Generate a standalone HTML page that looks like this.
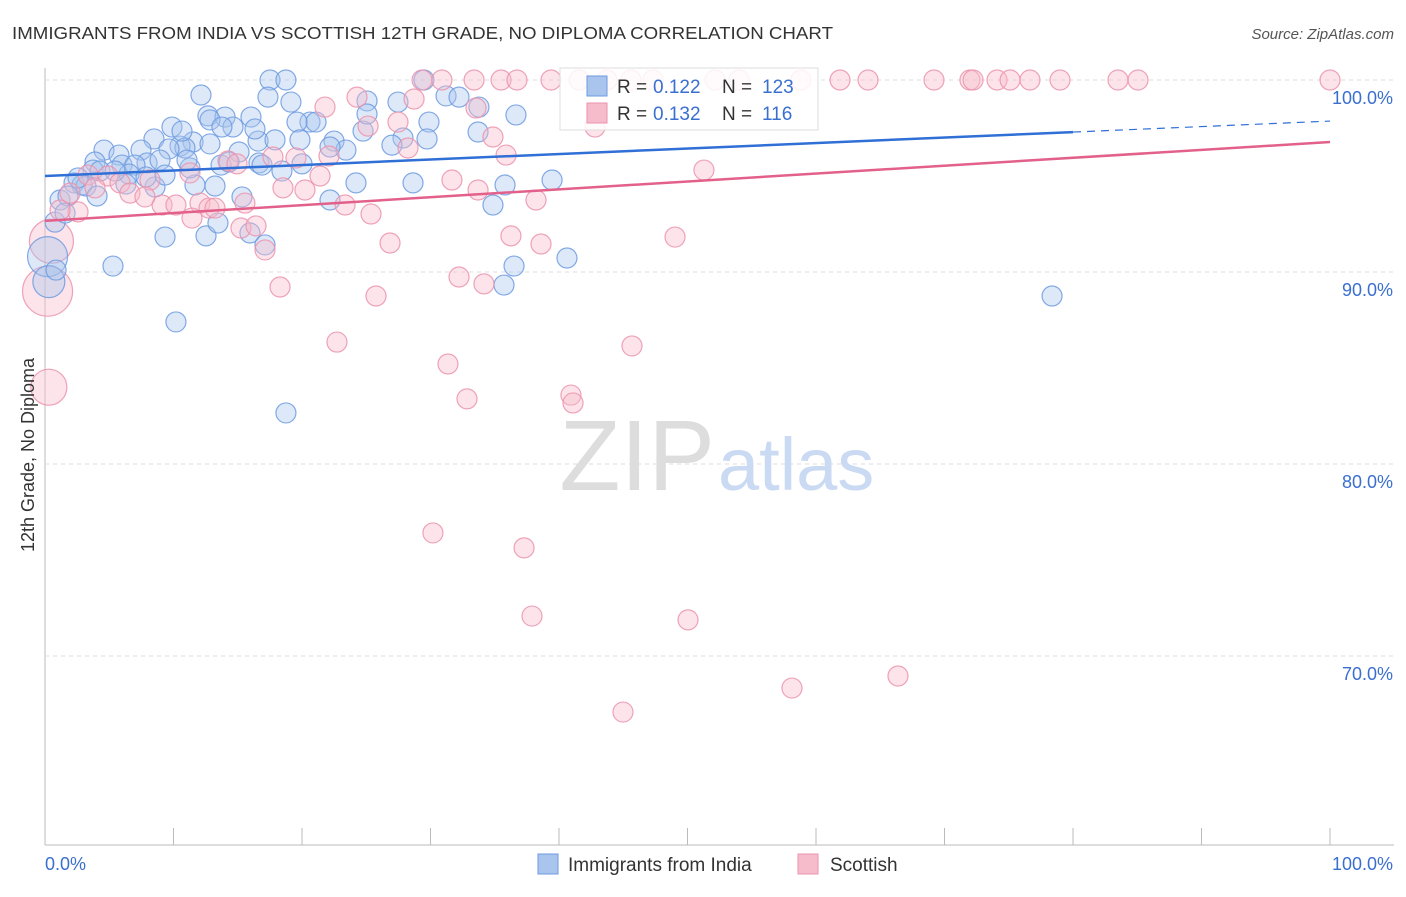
<!DOCTYPE html>
<html><head><meta charset="utf-8"><style>
body{margin:0;background:#fff;font-family:"Liberation Sans",sans-serif;}
svg text{font-family:"Liberation Sans",sans-serif;}
</style></head><body>
<svg width="1406" height="892" viewBox="0 0 1406 892">
<text x="12" y="39" font-size="17.5" fill="#333" textLength="821" lengthAdjust="spacingAndGlyphs">IMMIGRANTS FROM INDIA VS SCOTTISH 12TH GRADE, NO DIPLOMA CORRELATION CHART</text>
<text x="1394" y="39" font-size="15" fill="#555" font-style="italic" text-anchor="end">Source: ZipAtlas.com</text>
<g id="grid"></g>
<text x="715" y="490" font-size="100" fill="#ddd" text-anchor="end" font-family="Liberation Serif">ZIP</text>
<text x="718" y="490" font-size="74" fill="#c9daf2">atlas</text>
<g id="pts"></g>
<g id="lines"></g>
<text transform="translate(34,455) rotate(-90)" font-size="18" fill="#333" text-anchor="middle">12th Grade, No Diploma</text>
<g>
<rect x="560" y="68" width="258" height="62" fill="#fff" fill-opacity="0.85" stroke="#ddd"/>
<rect x="587" y="76" width="20" height="20" fill="#a9c5ee" stroke="#6d9be0"/>
<rect x="587" y="103" width="20" height="20" fill="#f7bccb" stroke="#eb93ad"/>
<text x="617" y="93" font-size="19" fill="#333">R =</text><text x="653" y="93" font-size="19" fill="#3a6fd0">0.122</text>
<text x="722" y="93" font-size="19" fill="#333">N =</text><text x="762" y="93" font-size="19" fill="#3a6fd0">123</text>
<text x="617" y="120" font-size="19" fill="#333">R =</text><text x="653" y="120" font-size="19" fill="#3a6fd0">0.132</text>
<text x="722" y="120" font-size="19" fill="#333">N =</text><text x="762" y="120" font-size="19" fill="#3a6fd0">116</text>
</g>
<g>
<rect x="538" y="854" width="20" height="20" fill="#a9c5ee" stroke="#6d9be0"/>
<text x="568" y="871" font-size="19" fill="#333">Immigrants from India</text>
<rect x="798" y="854" width="20" height="20" fill="#f7bccb" stroke="#eb93ad"/>
<text x="830" y="871" font-size="19" fill="#333">Scottish</text>
</g>
</svg>
<script>
const xTicks=[0,10,20,30,40,50,60,70,80,90,100];
const yTicks=[70,80,90,100];
const blueTrend=[95.0,97.86];
const pinkTrend=[92.66,96.77];
const bluePx=[[270,80],[286,80],[424,80],[201,95],[268,97],[291,102],[446,96],[459,97],[367,101],[398,102],[479,107],[516,115],[208,116],[225,117],[210,120],[251,117],[233,127],[310,122],[316,122],[172,127],[222,127],[297,122],[258,141],[275,140],[154,139],[193,142],[180,146],[185,148],[210,144],[239,152],[104,150],[119,155],[141,150],[169,149],[147,163],[160,160],[122,165],[95,162],[135,165],[93,170],[129,174],[74,183],[82,185],[86,186],[60,200],[68,196],[97,196],[126,184],[155,187],[195,185],[215,186],[259,163],[262,165],[282,171],[302,164],[356,183],[413,183],[505,185],[552,180],[493,205],[330,200],[165,237],[206,236],[250,233],[265,245],[113,266],[176,322],[286,413],[514,266],[504,285],[567,258],[1052,296],[56,270],[55,222],[65,213],[78,178],[100,171],[115,171],[242,197],[218,223],[403,138],[429,122],[427,139],[392,145],[334,141],[346,150],[363,131],[478,132],[367,114],[330,147],[300,140],[255,129],[182,131],[146,177],[165,175],[190,168],[187,160],[221,165],[229,162]];
const pinkPx=[[422,80],[442,80],[474,80],[501,80],[517,80],[551,80],[579,80],[607,80],[631,80],[653,80],[715,80],[739,80],[801,80],[840,80],[868,80],[934,80],[970,80],[973,80],[997,80],[1010,80],[1030,80],[1060,80],[1118,80],[1138,80],[1330,80],[357,97],[414,99],[325,107],[368,126],[398,122],[476,108],[493,137],[506,155],[595,127],[329,156],[408,148],[704,170],[536,200],[452,180],[478,190],[320,176],[283,188],[305,190],[228,161],[237,164],[273,157],[296,158],[245,203],[200,203],[209,208],[215,208],[192,218],[241,228],[256,226],[371,214],[345,205],[390,243],[511,236],[541,244],[675,237],[265,250],[280,287],[376,296],[459,277],[484,284],[337,342],[448,364],[467,399],[571,395],[573,403],[632,346],[433,533],[524,548],[532,616],[688,620],[792,688],[898,676],[623,712],[78,212],[88,175],[108,176],[150,180],[120,183],[95,188],[130,193],[162,205],[145,197],[60,210],[70,193],[190,173],[176,205]];
const blueX=bluePx.map(p=>+((p[0]-45)/12.85).toFixed(2));
const blueY=bluePx.map(p=>+(100-(p[1]-80)/19.2).toFixed(2));
const pinkX=pinkPx.map(p=>+((p[0]-45)/12.85).toFixed(2));
const pinkY=pinkPx.map(p=>+(100-(p[1]-80)/19.2).toFixed(2));
const bigBlueX=[0.2,0.3],bigBlueY=[90.8,89.5],bigBlueR=[20,16];
const bigPinkX=[0.2,0.3,0.5],bigPinkY=[89.0,84.0,91.6],bigPinkR=[25,18,22];

const NS="http://www.w3.org/2000/svg";
const sx=v=>45+v*12.85, sy=v=>80+(100-v)*19.2;
function mk(t,a,p){const e=document.createElementNS(NS,t);for(const k in a)e.setAttribute(k,a[k]);p.appendChild(e);return e;}
const grid=document.getElementById('grid');
mk('line',{x1:45,y1:68,x2:45,y2:845,stroke:'#bbb'},grid);
mk('line',{x1:45,y1:845,x2:1394,y2:845,stroke:'#bbb'},grid);
yTicks.forEach(t=>{
 const g=mk('line',{x1:45,y1:sy(t),x2:1394,y2:sy(t),stroke:'#ddd','stroke-dasharray':'4,4'},grid);
 
 
 const tx=mk('text',{x:1393,y:sy(t)+24,'font-size':18,fill:'#3a6fd0','text-anchor':'end'},grid);
 tx.textContent=t.toFixed(1)+'%';
 
 
});
xTicks.forEach(t=>{
 const l=mk('line',{x1:sx(t),y1:828,x2:sx(t),y2:845,stroke:'#bbb'},grid);
 
 
});
[[0,'start','0.0%'],[100,'end','100.0%']].forEach(d=>{
 const tx=mk('text',{x:d[0]==0?45:1393,y:870,'font-size':18,fill:'#3a6fd0','text-anchor':d[1]},grid);
 tx.textContent=d[2];
 
 
});
const pts=document.getElementById('pts');
function dot(x,y,r,f,s,name){const c=mk('circle',{cx:sx(x),cy:sy(y),r:r,fill:f,'fill-opacity':0.4,stroke:s,'stroke-opacity':0.85,'stroke-width':1.2},pts);
 
 }
bigPinkX.forEach((x,i)=>dot(x,bigPinkY[i],bigPinkR[i],'#f7bccb','#eb93ad','scottish-point'));
bigBlueX.forEach((x,i)=>dot(x,bigBlueY[i],bigBlueR[i],'#a9c5ee','#6d9be0','india-point'));
blueX.forEach((x,i)=>dot(x,blueY[i],10,'#a9c5ee','#6d9be0','india-point'));
pinkX.forEach((x,i)=>dot(x,pinkY[i],10,'#f7bccb','#eb93ad','scottish-point'));
const lines=document.getElementById('lines');
const by=x=>blueTrend[0]+(blueTrend[1]-blueTrend[0])*x/100;
const py=x=>pinkTrend[0]+(pinkTrend[1]-pinkTrend[0])*x/100;
let l=mk('line',{x1:sx(0),y1:sy(by(0)),x2:sx(80),y2:sy(by(80)),stroke:'#2f6fd6','stroke-width':2.5},lines);


l=mk('line',{x1:sx(80),y1:sy(by(80)),x2:sx(100),y2:sy(by(100)),stroke:'#2f6fd6','stroke-width':1.2,'stroke-dasharray':'8,6'},lines);


l=mk('line',{x1:sx(0),y1:sy(py(0)),x2:sx(100),y2:sy(py(100)),stroke:'#e2608a','stroke-width':2.5},lines);


</script>
</body></html>
